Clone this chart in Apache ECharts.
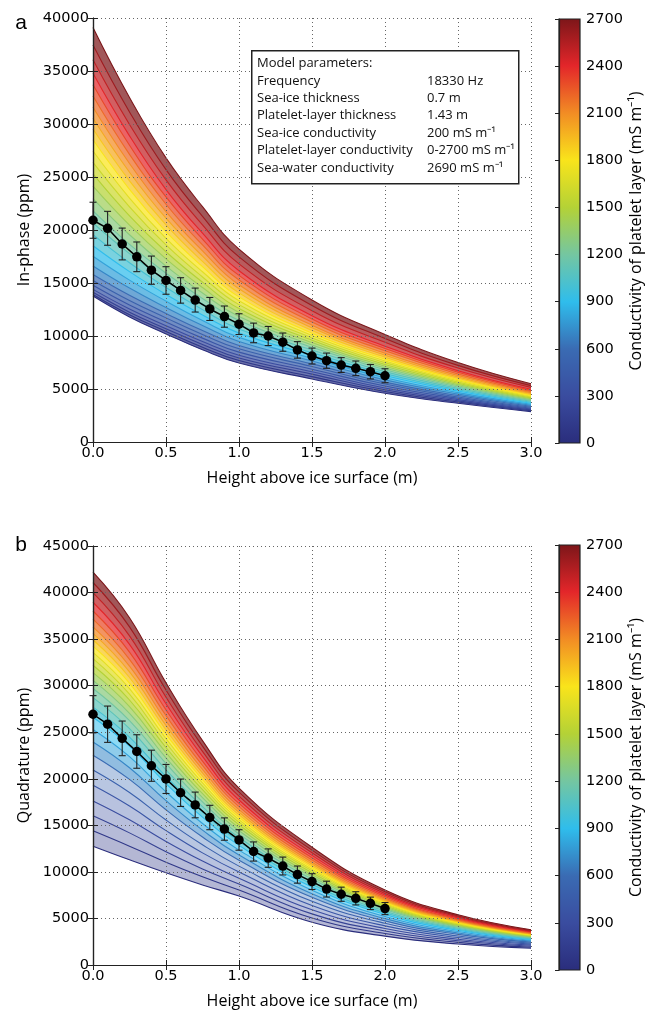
<!DOCTYPE html>
<html><head><meta charset="utf-8">
<script src="https://cdn.jsdelivr.net/npm/echarts@6/dist/echarts.min.js"></script>
<style>html,body{margin:0;padding:0;background:#fff}#c{width:653px;height:1010px}</style>
</head><body><div id="c"></div>
<script>
// ---------------- data ----------------
const heights = [0, 0.25, 0.5, 0.75, 1.0, 1.5, 2.0, 2.5, 3.0];
const conductivities = [0,100,200,300,400,500,600,700,800,900,1000,1100,1200,1300,1400,1500,1600,1700,1800,1900,2000,2100,2200,2300,2400,2500,2600,2700];

// In-phase model curves (ppm), one row per platelet-layer conductivity, columns = heights
const inphaseCurves = [
 [13770,11800,10200, 8700, 7450, 5950, 4600, 3650, 2870],
 [13920,12010,10430, 8940, 7690, 6170, 4770, 3770, 2950],
 [14120,12250,10690, 9200, 7930, 6400, 4930, 3880, 3030],
 [14400,12550,10970, 9480, 8190, 6620, 5100, 4000, 3110],
 [14780,12920,11320, 9800, 8480, 6870, 5280, 4120, 3190],
 [15240,13350,11710,10150, 8790, 7120, 5470, 4250, 3280],
 [15800,13840,12130,10520, 9100, 7370, 5650, 4380, 3370],
 [16610,14520,12690,10990, 9480, 7640, 5860, 4520, 3470],
 [17520,15270,13290,11470, 9870, 7910, 6060, 4660, 3560],
 [18510,16070,13920,11990,10270, 8190, 6270, 4810, 3660],
 [19570,16910,14570,12490,10660, 8430, 6450, 4930, 3750],
 [20660,17770,15240,13010,11060, 8680, 6640, 5060, 3840],
 [21800,18650,15920,13540,11460, 8930, 6820, 5190, 3920],
 [22970,19550,16590,14050,11840, 9150, 6990, 5310, 4000],
 [24130,20450,17270,14570,12210, 9380, 7150, 5420, 4080],
 [25300,21340,17950,15080,12590, 9600, 7320, 5540, 4160],
 [26380,22190,18590,15570,12960, 9820, 7490, 5650, 4240],
 [27450,23010,19220,16060,13330,10050, 7650, 5770, 4320],
 [28510,23840,19850,16540,13690,10270, 7820, 5880, 4400],
 [29530,24640,20480,17040,14070,10520, 8000, 6010, 4480],
 [30540,25450,21110,17540,14460,10770, 8190, 6140, 4570],
 [31580,26270,21740,18040,14840,11020, 8370, 6270, 4660],
 [32640,27130,22430,18590,15280,11310, 8600, 6420, 4760],
 [33710,28000,23120,19140,15720,11610, 8820, 6580, 4870],
 [34790,28880,23810,19700,16160,11910, 9040, 6730, 4970],
 [36060,29960,24730,20480,16800,12390, 9400, 6980, 5150],
 [37450,31140,25690,21290,17470,12880, 9760, 7230, 5320],
 [39100,32500,26800,22200,18200,13400,10150, 7500, 5500]
];

// Quadrature model curves (ppm)
const quadratureCurves = [
 [12760,11300, 9900, 8600, 7400, 4600, 3100, 2250, 1800],
 [14410,12760,11040, 9470, 8050, 5050, 3380, 2430, 1910],
 [16030,14190,12160,10320, 8690, 5490, 3650, 2600, 2020],
 [17620,15590,13270,11160, 9310, 5930, 3920, 2770, 2130],
 [19300,17070,14430,12040, 9980, 6390, 4200, 2950, 2240],
 [20940,18530,15570,12910,10620, 6840, 4480, 3120, 2350],
 [22530,19930,16670,13750,11250, 7270, 4740, 3290, 2460],
 [23950,21180,17650,14490,11810, 7660, 4980, 3440, 2560],
 [25300,22380,18590,15200,12340, 8030, 5210, 3590, 2650],
 [26600,23520,19490,15890,12850, 8380, 5430, 3730, 2740],
 [27690,24480,20240,16460,13280, 8680, 5610, 3840, 2810],
 [28720,25390,20960,17000,13690, 8960, 5780, 3950, 2880],
 [29690,26250,21630,17510,14070, 9230, 5950, 4060, 2940],
 [30570,27030,22240,17980,14420, 9470, 6100, 4150, 3000],
 [31400,27760,22810,18410,14740, 9700, 6230, 4240, 3060],
 [32190,28460,23360,18830,15060, 9910, 6370, 4320, 3110],
 [32900,29080,23850,19200,15330,10110, 6490, 4400, 3160],
 [33570,29680,24320,19560,15600,10290, 6600, 4470, 3210],
 [34250,30280,24790,19920,15870,10480, 6710, 4540, 3250],
 [34930,30880,25260,20270,16140,10660, 6830, 4610, 3300],
 [35610,31480,25730,20630,16400,10850, 6940, 4690, 3340],
 [36310,32100,26220,21000,16680,11040, 7060, 4760, 3390],
 [37140,32830,26790,21430,17010,11270, 7200, 4850, 3450],
 [38020,33610,27400,21900,17350,11510, 7350, 4940, 3510],
 [38960,34440,28060,22400,17720,11770, 7510, 5050, 3570],
 [39990,35350,28770,22940,18130,12050, 7680, 5160, 3640],
 [41080,36310,29530,23510,18560,12340, 7860, 5270, 3710],
 [42200,37300,30300,24100,19000,12650, 8050, 5390, 3790]
];

// Measured data (mean and error)
const dotHeights   = [0,0.1,0.2,0.3,0.4,0.5,0.6,0.7,0.8,0.9,1.0,1.1,1.2,1.3,1.4,1.5,1.6,1.7,1.8,1.9,2.0];
const inphaseMean  = [20920,20160,18680,17470,16210,15240,14300,13390,12550,11830,11120,10290,10000,9420,8690,8110,7670,7260,6950,6630,6250];
const inphaseErr   = [1700,1600,1500,1400,1330,1300,1200,1130,1085,1000,980,925,900,860,780,750,720,700,690,680,660];
const quadMean     = [26930,25860,24340,22930,21400,19980,18500,17190,15840,14600,13430,12190,11480,10630,9710,8960,8150,7600,7160,6620,6060];
const quadErr      = [2000,1950,1860,1800,1670,1560,1470,1380,1310,1200,1100,1030,990,960,920,850,850,760,710,670,650];

const colorbarRange = [0, 2700];
const paramTitle  = 'Model parameters:';
const paramNames  = ['Frequency','Sea-ice thickness','Platelet-layer thickness','Sea-ice conductivity','Platelet-layer conductivity','Sea-water conductivity'];
const paramValues = ['18330 Hz','0.7 m','1.43 m','200 mS m\u207B\u00B9','0-2700 mS m\u207B\u00B9','2690 mS m\u207B\u00B9'];

// ---------------- styling ----------------
const cmapColors = ['#2a2d7c','#3a4c9f','#3a6bb3','#2fbdec','#74c6a1','#b4d236','#f9e41b','#f28c24','#e3262a','#7c1619'];
function hex2rgb(h){return [parseInt(h.substr(1,2),16),parseInt(h.substr(3,2),16),parseInt(h.substr(5,2),16)];}
function cmapRGB(c){
  const t = Math.max(0,Math.min(1,(c-colorbarRange[0])/(colorbarRange[1]-colorbarRange[0])))*(cmapColors.length-1);
  const i = Math.min(Math.floor(t), cmapColors.length-2), f = t-i;
  const a = hex2rgb(cmapColors[i]), b = hex2rgb(cmapColors[i+1]);
  return a.map((v,k)=>v+(b[k]-v)*f);
}
function cmap(c){ return 'rgb('+cmapRGB(c).map(Math.round).join(',')+')'; }
function cmapPale(c, alpha){ return 'rgb('+cmapRGB(c).map(v=>Math.round(v*alpha+255*(1-alpha))).join(',')+')'; }

const TICK_FONT = {fontFamily:'DejaVu Sans', fontSize:14.5, color:'#000'};
const TITLE_FONT = {fontFamily:'Open Sans', fontSize:16, color:'#000'};
const SMOOTH = 0.45;

const chart = echarts.init(document.getElementById('c'), null, {renderer:'canvas'});

const grids = [
  {left:93, top:18, width:438, height:424},
  {left:93, top:546, width:438, height:423},
  {left:559, top:19, width:21, height:424},
  {left:559, top:545, width:21, height:425}
];

const xAxes = [], yAxes = [], series = [];
const panels = [
  {curves: inphaseCurves, mean: inphaseMean, err: inphaseErr, ymax: 40000, name: 'In-phase (ppm)',
   fillAlpha: c => 0.72},
  {curves: quadratureCurves, mean: quadMean, err: quadErr, ymax: 45000, name: 'Quadrature (ppm)',
   fillAlpha: c => c <= 600 ? 0.36 : (c <= 900 ? 0.55 : 0.72)}
];
const axisLine = {show:true, lineStyle:{color:'#222', width:1.2}};
const tick = {inside:true, length:5, lineStyle:{color:'#222'}};
const gridLine = {show:true, lineStyle:{color:'#666', type:[1,3], width:1}};
panels.forEach((p, gi) => {
  const xi = xAxes.length, yi = yAxes.length;
  xAxes.push({gridIndex:gi, type:'value', min:0, max:3, interval:0.5, position:'bottom', z:20,
    axisLine, axisTick:tick,
    axisLabel:Object.assign({margin:4, formatter:v=>v.toFixed(1)}, TICK_FONT),
    splitLine:gridLine,
    name:'Height above ice surface (m)', nameLocation:'middle', nameGap:28, nameTextStyle:TITLE_FONT});
  xAxes.push({gridIndex:gi, type:'value', min:0, max:3, interval:0.5, position:'top', z:20,
    axisLine, axisTick:tick, axisLabel:{show:false}, splitLine:{show:false}});
  yAxes.push({gridIndex:gi, type:'value', min:0, max:p.ymax, interval:5000, position:'left', z:20,
    axisLine, axisTick:tick,
    axisLabel:Object.assign({margin:4, formatter:v=>String(v)}, TICK_FONT),
    splitLine:gridLine,
    name:p.name, nameLocation:'middle', nameGap:58, nameTextStyle:TITLE_FONT});
  yAxes.push({gridIndex:gi, type:'value', min:0, max:p.ymax, interval:5000, position:'right', z:20,
    axisLine, axisTick:tick, axisLabel:{show:false}, splitLine:{show:false}});

  // filled bands: draw from the highest conductivity down, each filling to the axis;
  // later (lower) curves cover the lower part, leaving one band per curve pair
  for (let k = p.curves.length-1; k >= 0; k--) {
    series.push({type:'line', xAxisIndex:xi, yAxisIndex:yi, data:heights.map((h,j)=>[h,p.curves[k][j]]),
      smooth:SMOOTH, showSymbol:false, symbol:'none', silent:true, z:2,
      lineStyle:{width:0, opacity:0},
      areaStyle:{origin:'start', opacity:1,
        color: k === 0 ? '#ffffff' : cmapPale(conductivities[k], p.fillAlpha(conductivities[k]))}});
  }
  // model curves
  p.curves.forEach((row, k) => {
    series.push({type:'line', xAxisIndex:xi, yAxisIndex:yi, data:heights.map((h,j)=>[h,row[j]]),
      smooth:SMOOTH, showSymbol:false, symbol:'none', silent:true, z:3,
      lineStyle:{color:cmap(conductivities[k]), width:1.1}});
  });
  // error bars
  series.push({type:'custom', xAxisIndex:xi, yAxisIndex:yi, z:24, silent:true,
    data: dotHeights.map((h,i)=>[h, p.mean[i], p.err[i]]), encode:{x:0, y:1},
    renderItem:(params, api) => {
      const x = api.value(0), m = api.value(1), e = api.value(2);
      const t = api.coord([x, m+e]), b = api.coord([x, m-e]), w = 3.5;
      const st = {stroke:'#222', lineWidth:1.1};
      return {type:'group', children:[
        {type:'line', shape:{x1:t[0], y1:t[1], x2:b[0], y2:b[1]}, style:st},
        {type:'line', shape:{x1:t[0]-w, y1:t[1], x2:t[0]+w, y2:t[1]}, style:st},
        {type:'line', shape:{x1:b[0]-w, y1:b[1], x2:b[0]+w, y2:b[1]}, style:st}
      ]};
    }});
  // measured means
  series.push({type:'line', xAxisIndex:xi, yAxisIndex:yi, z:25, silent:true,
    data: dotHeights.map((h,i)=>[h, p.mean[i]]), symbol:'circle', symbolSize:9.5, showSymbol:true,
    itemStyle:{color:'#000'}, lineStyle:{color:'#000', width:1.5}});
});

// colorbars
[2,3].forEach(gi => {
  const xi = xAxes.length, yi = yAxes.length;
  xAxes.push({gridIndex:gi, type:'value', min:0, max:1, show:false});
  yAxes.push({gridIndex:gi, type:'value', min:colorbarRange[0], max:colorbarRange[1], interval:300, position:'right', z:20,
    axisLine:{show:true, lineStyle:{color:'#222', width:1.2}},
    axisTick:{inside:true, length:4, lineStyle:{color:'#222'}},
    axisLabel:Object.assign({margin:6, formatter:v=>String(v)}, TICK_FONT), splitLine:{show:false},
    name:'Conductivity of platelet layer (mS m\u207B\u00B9)', nameLocation:'middle', nameRotate:90, nameGap:48,
    nameTextStyle:TITLE_FONT});
  series.push({type:'custom', xAxisIndex:xi, yAxisIndex:yi, silent:true, z:2,
    data:[[0, colorbarRange[0], colorbarRange[1]]], encode:{y:[1,2]},
    renderItem:(params, api) => {
      const tl = api.coord([0, api.value(2)]), br = api.coord([1, api.value(1)]);
      const stops = cmapColors.map((c,i)=>({offset:1 - i/(cmapColors.length-1), color:c}));
      stops.sort((a,b)=>a.offset-b.offset);
      return {type:'rect', shape:{x:tl[0], y:tl[1], width:br[0]-tl[0], height:br[1]-tl[1]},
        style:{fill:{type:'linear', x:0, y:0, x2:0, y2:1, colorStops:stops}, stroke:'#222', lineWidth:1.2}};
    }});
});

// parameter box and panel labels
const graphic = [];
graphic.push({type:'rect', left:251, top:50, shape:{width:267, height:133}, z:100,
  style:{fill:'#fff', stroke:'#222', lineWidth:1.5}});
const lineY = [63.5, 81, 98.3, 115.7, 133, 150.4, 167.8];
const boxFont = '13px "Open Sans"';
graphic.push({type:'text', x:257, y:lineY[0], z:101, style:{text:paramTitle, font:boxFont, fill:'#111', verticalAlign:'middle'}});
paramNames.forEach((n,i)=>{
  graphic.push({type:'text', x:257, y:lineY[i+1], z:101, style:{text:n, font:boxFont, fill:'#111', verticalAlign:'middle'}});
  graphic.push({type:'text', x:427, y:lineY[i+1], z:101, style:{text:paramValues[i], font:boxFont, fill:'#111', verticalAlign:'middle'}});
});
graphic.push({type:'text', x:21, y:23, z:101, style:{text:'a', font:'21px "Liberation Sans"', fill:'#000', align:'center', verticalAlign:'middle'}});
graphic.push({type:'text', x:21, y:545, z:101, style:{text:'b', font:'21px "Liberation Sans"', fill:'#000', align:'center', verticalAlign:'middle'}});

chart.setOption({
  animation:false, backgroundColor:'#fff',
  grid:grids.map(g=>Object.assign({containLabel:false}, g)),
  xAxis:xAxes, yAxis:yAxes, series, graphic:{elements:graphic, z:100}
});
</script></body></html>
